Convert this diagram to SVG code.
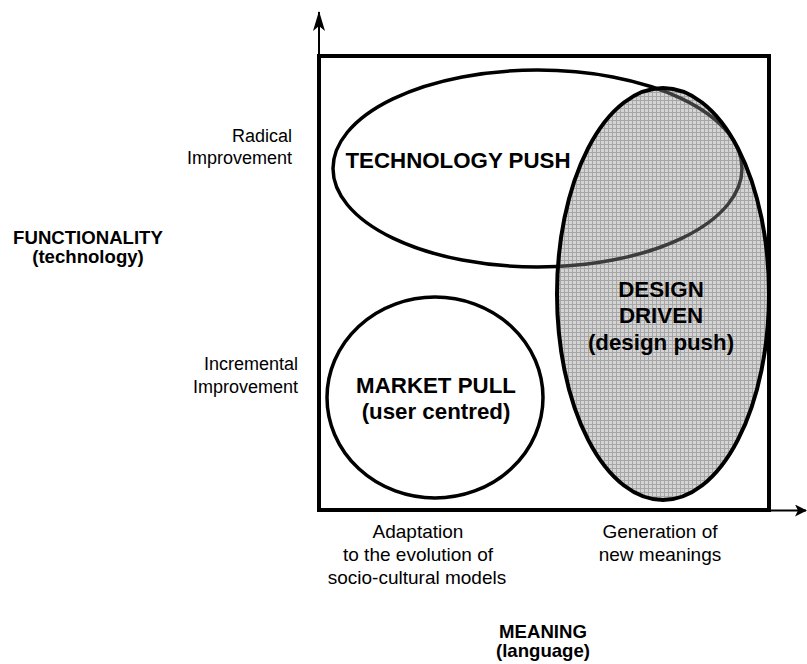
<svg xmlns="http://www.w3.org/2000/svg" width="807" height="664" viewBox="0 0 807 664">
<style>
text{font-family:"Liberation Sans",Arial,sans-serif;fill:#000}
.lbl{font-size:18px}
.lblb{font-size:19px}
.axis{font-size:18.6px;font-weight:bold;text-anchor:middle}
.node{font-size:22.3px;font-weight:bold;text-anchor:middle}
.mid{text-anchor:middle}
.end{text-anchor:end}
.outline{fill:none;stroke:#000;stroke-width:4}
</style>
<defs>
<pattern id="grid" width="4" height="4" patternUnits="userSpaceOnUse">
<rect width="4" height="4" fill="#d4d4d4"/>
<path d="M0 0.5H4M0.5 0V4" stroke="#a6a6a6" stroke-width="1"/>
</pattern>
<clipPath id="ddclip"><ellipse cx="663" cy="294" rx="106" ry="206"/></clipPath>
<marker id="arr" viewBox="0 0 12 12" refX="11" refY="6" markerWidth="12" markerHeight="12" markerUnits="userSpaceOnUse" orient="auto">
<path d="M0 0L12 6L0 12L3 6Z" fill="#000"/>
</marker>
<marker id="arrV" viewBox="0 0 20 12" refX="19" refY="6" markerWidth="20" markerHeight="12" markerUnits="userSpaceOnUse" orient="auto">
<path d="M0 0L20 6L0 12L5 6Z" fill="#000"/>
</marker>
</defs>
<rect width="807" height="664" fill="#fff"/>

<g id="tech-push">
<ellipse cx="537.5" cy="168.5" rx="204.5" ry="98.5" fill="#fff" stroke="#000" stroke-width="3.5"/>
</g>

<g id="market-pull">
<ellipse cx="435" cy="397.5" rx="108" ry="100.5" fill="#fff" stroke="#000" stroke-width="3.5"/>
<text class="node" x="436" y="393">MARKET PULL</text>
<text class="node" x="436" y="419">(user centred)</text>
</g>

<g id="design-driven">
<ellipse cx="663" cy="294" rx="106" ry="206" fill="url(#grid)"/>
<ellipse cx="537.5" cy="168.5" rx="204.5" ry="98.5" fill="none" stroke="#3c3c3c" stroke-width="3.5" clip-path="url(#ddclip)"/>
<ellipse cx="663" cy="294" rx="106" ry="206" class="outline"/>
<text class="node" x="661" y="297">DESIGN</text>
<text class="node" x="661" y="323">DRIVEN</text>
<text class="node" x="661" y="350">(design push)</text>
</g>

<g id="tech-push-label">
<text class="node" x="458" y="168">TECHNOLOGY PUSH</text>
</g>

<g id="connectors">
<line x1="319" y1="56" x2="319" y2="12" stroke="#000" stroke-width="2" marker-end="url(#arrV)"/>
<line x1="769" y1="510.5" x2="806" y2="510.5" stroke="#000" stroke-width="2" marker-end="url(#arr)"/>
<rect x="319" y="56" width="450" height="454" class="outline"/>
</g>

<g id="y-labels">
<text class="lbl end" x="292" y="142">Radical</text>
<text class="lbl end" x="292" y="164">Improvement</text>
<text class="lbl end" x="298" y="370">Incremental</text>
<text class="lbl end" x="298" y="393">Improvement</text>
<text class="axis" x="88" y="244">FUNCTIONALITY</text>
<text class="axis" x="88" y="263">(technology)</text>
</g>

<g id="x-labels">
<text class="lblb mid" x="418" y="538">Adaptation</text>
<text class="lblb mid" x="418" y="561">to the evolution of</text>
<text class="lblb mid" x="417" y="584">socio-cultural models</text>
<text class="lblb mid" x="660" y="538">Generation of</text>
<text class="lblb mid" x="660" y="561">new meanings</text>
<text class="axis" x="543" y="638">MEANING</text>
<text class="axis" x="543" y="657">(language)</text>
</g>
</svg>
